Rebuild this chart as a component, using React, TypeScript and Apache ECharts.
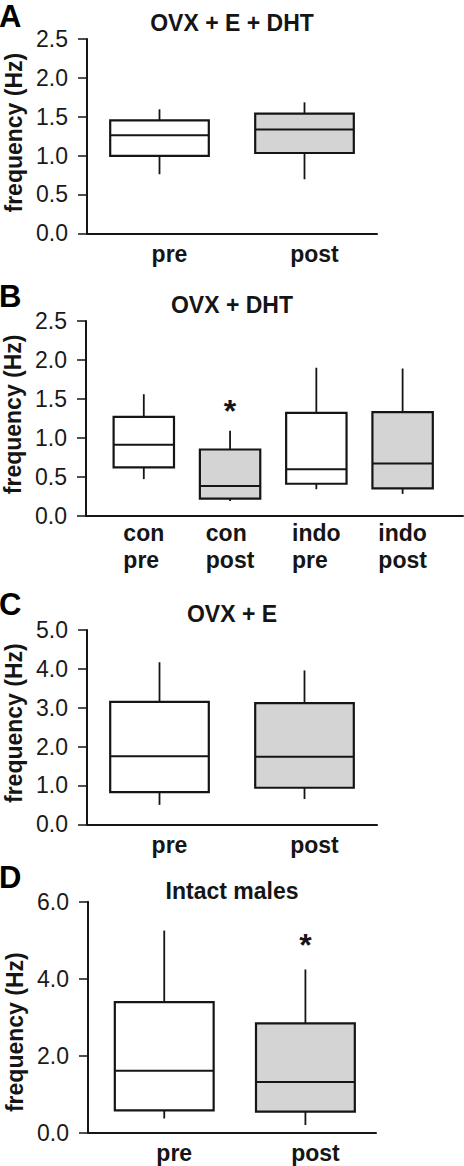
import React, { useEffect, useRef } from 'react';
import * as echarts from 'echarts';

const FONT = '"Liberation Sans", Arial, Helvetica, sans-serif';
const INK = '#151515';
const GREY = '#d4d4d4';
const FS = 23;

const panelLetters = ['A', 'B', 'C', 'D'];
const panelTitles = ['OVX + E + DHT', 'OVX + DHT', 'OVX + E', 'Intact males'];
const yAxisName = 'frequency (Hz)';

const categoriesA = ['pre', 'post'];
const categoriesB = ['con pre', 'con post', 'indo pre', 'indo post'];
const categoriesC = ['pre', 'post'];
const categoriesD = ['pre', 'post'];

// [lower whisker, Q1, median, Q3, upper whisker] in Hz
const boxesA = [
  [0.76, 0.995, 1.26, 1.454, 1.595],
  [0.695, 1.033, 1.334, 1.54, 1.685],
];
const boxesB = [
  [0.47, 0.62, 0.91, 1.27, 1.56],
  [0.19, 0.22, 0.38, 0.85, 1.09],
  [0.34, 0.41, 0.595, 1.32, 1.9],
  [0.28, 0.35, 0.67, 1.33, 1.89],
];
const boxesC = [
  [0.5, 0.83, 1.75, 3.15, 4.17],
  [0.65, 0.94, 1.74, 3.12, 3.96],
];
const boxesD = [
  [0.37, 0.58, 1.61, 3.39, 5.25],
  [0.2, 0.55, 1.32, 2.84, 4.24],
];

const yTicksA = [0, 0.5, 1, 1.5, 2, 2.5];
const yTicksB = [0, 0.5, 1, 1.5, 2, 2.5];
const yTicksC = [0, 1, 2, 3, 4, 5];
const yTicksD = [0, 2, 4, 6];

// height of the significance asterisk (Hz), null = none
const significanceA = [null, null];
const significanceB = [null, 1.41, null, null];
const significanceC = [null, null];
const significanceD = [null, 5.0];

const panels = [
  { cats: categoriesA, boxes: boxesA, ticks: yTicksA, sig: significanceA,
    grid: { left: 87, top: 39, width: 290, height: 194.3 }, xMin: 0.5, xMax: 2.5, bw: 0.68,
    titleTop: 11.5, letterY: 16, twoLine: false, namePad: [0, 0, 0, 7] },
  { cats: categoriesB, boxes: boxesB, ticks: yTicksB, sig: significanceB,
    grid: { left: 86, top: 321, width: 377, height: 194.7 }, xMin: 0.33, xMax: 4.7, bw: 0.7,
    titleTop: 293.2, letterY: 296.7, twoLine: true, namePad: [0, 0, 0, 8] },
  { cats: categoriesC, boxes: boxesC, ticks: yTicksC, sig: significanceC,
    grid: { left: 87, top: 630, width: 290, height: 194.3 }, xMin: 0.5, xMax: 2.5, bw: 0.68,
    titleTop: 602.3, letterY: 604, twoLine: false, namePad: [0, 0, 0, 8] },
  { cats: categoriesD, boxes: boxesD, ticks: yTicksD, sig: significanceD,
    grid: { left: 88, top: 901.7, width: 288, height: 231 }, xMin: 0.46, xMax: 2.5, bw: 0.7,
    titleTop: 879.8, letterY: 877, twoLine: false, namePad: [0, 30, 0, 0] },
];

const makeBoxRenderer = (bw: number) => (params: any, api: any) => {
  const x = api.value(0);
  const lo = api.coord([x, api.value(1)]);
  const q1 = api.coord([x, api.value(2)]);
  const md = api.coord([x, api.value(3)]);
  const q3 = api.coord([x, api.value(4)]);
  const hi = api.coord([x, api.value(5)]);
  const w = api.size([bw, 0])[0];
  const cx = lo[0];
  const fill = api.value(6) ? GREY : '#ffffff';
  return {
    type: 'group',
    children: [
      { type: 'line', shape: { x1: cx, y1: hi[1], x2: cx, y2: q3[1] }, style: { stroke: INK, lineWidth: 1.8 } },
      { type: 'line', shape: { x1: cx, y1: q1[1], x2: cx, y2: lo[1] }, style: { stroke: INK, lineWidth: 1.8 } },
      { type: 'rect', shape: { x: cx - w / 2, y: q3[1], width: w, height: q1[1] - q3[1] },
        style: { fill, stroke: INK, lineWidth: 2.2 } },
      { type: 'line', shape: { x1: cx - w / 2, y1: md[1], x2: cx + w / 2, y2: md[1] }, style: { stroke: INK, lineWidth: 2 } },
    ],
  };
};

const renderStar = (params: any, api: any) => {
  const p = api.coord([api.value(0), api.value(1)]);
  return {
    type: 'text',
    x: p[0],
    y: p[1] + 5,
    style: {
      text: '*', fontSize: 32, fontWeight: 'bold', fontFamily: FONT, fill: INK,
      align: 'center', verticalAlign: 'middle',
    },
  };
};

function buildOption() {
  const grid: any[] = [];
  const xAxis: any[] = [];
  const yAxis: any[] = [];
  const series: any[] = [];
  const title: any[] = [];
  const graphic: any[] = [];

  panels.forEach((p, i) => {
    grid.push({ ...p.grid, containLabel: false, outerBoundsMode: 'none' });
    const cats = p.cats;
    xAxis.push({
      type: 'value', gridIndex: i, min: p.xMin, max: p.xMax,
      axisLine: { show: true, onZero: false, lineStyle: { color: INK, width: 2 } },
      axisTick: { show: false },
      splitLine: { show: false },
      axisLabel: p.twoLine
        ? {
            customValues: cats.map((_, k) => k + 1),
            margin: 4,
            formatter: (v: number) => {
              const parts = cats[Math.round(v) - 1].split(' ');
              return parts.map((s) => `{l|${s}}`).join('\n');
            },
            rich: { l: { align: 'left', fontSize: FS, fontWeight: 'bold', fontFamily: FONT, color: INK, lineHeight: 27 } },
          }
        : {
            customValues: cats.map((_, k) => k + 1),
            margin: 9,
            padding: [0, 0, 0, 20],
            fontSize: FS, fontWeight: 'bold', fontFamily: FONT, color: INK,
            formatter: (v: number) => cats[Math.round(v) - 1],
          },
    });
    const ticks = p.ticks;
    yAxis.push({
      type: 'value', gridIndex: i, min: ticks[0], max: ticks[ticks.length - 1], interval: ticks[1] - ticks[0],
      axisLine: { show: true, lineStyle: { color: INK, width: 2 } },
      axisTick: { show: true, length: 9, lineStyle: { color: INK, width: 1.5 } },
      axisLabel: { formatter: (v: number) => v.toFixed(1), fontSize: FS, color: '#1a1a1a', fontFamily: FONT, margin: 19 },
      splitLine: { show: false },
      name: yAxisName, nameLocation: 'middle', nameGap: 62,
      nameTextStyle: { fontSize: FS, fontWeight: 'bold', color: INK, fontFamily: FONT, padding: p.namePad },
    });
    series.push({
      type: 'custom', xAxisIndex: i, yAxisIndex: i,
      encode: { x: 0, y: [1, 2, 3, 4, 5] },
      data: p.boxes.map((b, k) => [k + 1, ...b, cats[k].endsWith('post') ? 1 : 0]),
      renderItem: makeBoxRenderer(p.bw),
      silent: true,
    });
    const stars = p.sig
      .map((v, k) => (v == null ? null : [k + 1, v]))
      .filter((d) => d != null);
    if (stars.length) {
      series.push({
        type: 'custom', xAxisIndex: i, yAxisIndex: i,
        encode: { x: 0, y: 1 },
        data: stars,
        renderItem: renderStar,
        silent: true,
      });
    }
    title.push({
      text: panelTitles[i], left: 'center', top: p.titleTop, padding: 0,
      textStyle: { fontSize: FS, fontWeight: 'bold', color: INK, fontFamily: FONT },
    });
    graphic.push({
      type: 'text', x: -1, y: p.letterY,
      style: { text: panelLetters[i], fontSize: 31, fontWeight: 'bold', fontFamily: FONT, fill: '#000', verticalAlign: 'middle' },
    });
  });

  return {
    animation: false,
    backgroundColor: '#ffffff',
    textStyle: { fontFamily: FONT },
    title, grid, xAxis, yAxis, series, graphic,
  };
}

export default function App() {
  const ref = useRef<HTMLDivElement>(null);
  useEffect(() => {
    if (!ref.current) return;
    const chart = echarts.init(ref.current, undefined, { renderer: 'svg' });
    chart.setOption(buildOption() as any);
    return () => chart.dispose();
  }, []);
  return <div ref={ref} style={{ position: 'absolute', left: 0, top: 0, width: 464, height: 1166 }} />;
}
